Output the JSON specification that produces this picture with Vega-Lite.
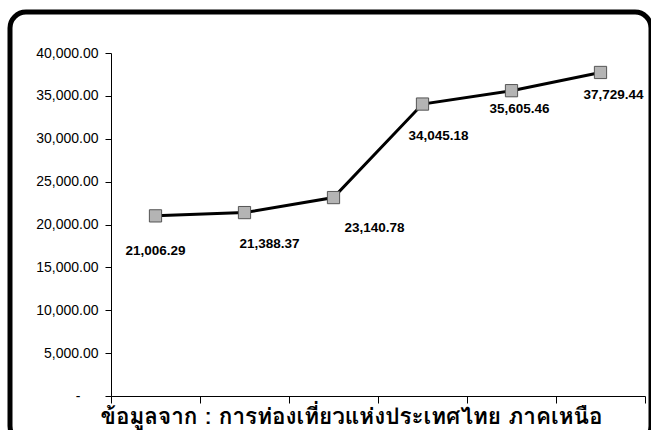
{
  "$schema": "https://vega.github.io/schema/vega-lite/v6.json",
  "autosize": "none",
  "padding": {"left": 10, "top": 12, "right": 0, "bottom": 0},
  "width": 641,
  "height": 430,
  "background": "white",
  "config": {
    "view": {"stroke": "black", "strokeWidth": 5, "cornerRadius": 16},
    "axis": {"grid": false, "domainColor": "black", "tickColor": "black", "labelColor": "black", "titleColor": "black"}
  },
  "data": {
    "values": [
      {"period": "1", "value": 21006.29},
      {"period": "2", "value": 21388.37},
      {"period": "3", "value": 23140.78},
      {"period": "4", "value": 34045.18},
      {"period": "5", "value": 35605.46},
      {"period": "6", "value": 37729.44}
    ]
  },
  "encoding": {
    "x": {
      "field": "period", "type": "ordinal", "sort": null,
      "scale": {"type": "band", "range": [101, 635], "paddingInner": 0, "paddingOuter": 0},
      "axis": {
        "offset": -46, "labels": false, "tickBand": "extent", "tickSize": 7,
        "title": "ข้อมูลจาก : การท่องเที่ยวแห่งประเทศไทย ภาคเหนือ",
        "titleFont": "Tahoma, Loma, Garuda, Noto Sans Thai, Noto Sans, sans-serif",
        "titleFontSize": 22.5, "titleFontWeight": "bold",
        "titleAnchor": "start", "titleAlign": "left", "titleBaseline": "alphabetic",
        "titleX": 90, "titleY": 27
      }
    },
    "y": {
      "field": "value", "type": "quantitative",
      "scale": {"domain": [0, 40000], "range": [384, 41], "nice": false, "zero": true},
      "axis": {
        "offset": -101, "title": null, "values": [0, 5000, 10000, 15000, 20000, 25000, 30000, 35000, 40000],
        "labelExpr": "datum.value == 0 ? '-' : format(datum.value, ',.2f')",
        "labelPadding": {"condition": {"test": "datum.value == 0", "value": 25}, "value": 7},
        "labelFont": "Liberation Sans", "labelFontSize": 14, "tickSize": 6
      }
    }
  },
  "layer": [
    {"mark": {"type": "line", "color": "black", "strokeWidth": 3}},
    {"mark": {"type": "point", "shape": "square", "size": 150, "filled": true, "fill": "#b4b4b4", "stroke": "#555555", "strokeWidth": 1, "opacity": 1}},
    {"transform": [{"filter": "datum.period == '1'"}],
     "mark": {"type": "text", "font": "Liberation Sans", "fontWeight": "bold", "fontSize": 13.5, "dx": 0, "dy": 35, "baseline": "middle"},
     "encoding": {"text": {"field": "value", "type": "quantitative", "format": ",.2f"}}},
    {"transform": [{"filter": "datum.period == '2'"}],
     "mark": {"type": "text", "font": "Liberation Sans", "fontWeight": "bold", "fontSize": 13.5, "dx": 25, "dy": 31, "baseline": "middle"},
     "encoding": {"text": {"field": "value", "type": "quantitative", "format": ",.2f"}}},
    {"transform": [{"filter": "datum.period == '3'"}],
     "mark": {"type": "text", "font": "Liberation Sans", "fontWeight": "bold", "fontSize": 13.5, "dx": 41, "dy": 30, "baseline": "middle"},
     "encoding": {"text": {"field": "value", "type": "quantitative", "format": ",.2f"}}},
    {"transform": [{"filter": "datum.period == '4'"}],
     "mark": {"type": "text", "font": "Liberation Sans", "fontWeight": "bold", "fontSize": 13.5, "dx": 16, "dy": 32, "baseline": "middle"},
     "encoding": {"text": {"field": "value", "type": "quantitative", "format": ",.2f"}}},
    {"transform": [{"filter": "datum.period == '5'"}],
     "mark": {"type": "text", "font": "Liberation Sans", "fontWeight": "bold", "fontSize": 13.5, "dx": 8, "dy": 18, "baseline": "middle"},
     "encoding": {"text": {"field": "value", "type": "quantitative", "format": ",.2f"}}},
    {"transform": [{"filter": "datum.period == '6'"}],
     "mark": {"type": "text", "font": "Liberation Sans", "fontWeight": "bold", "fontSize": 13.5, "dx": 13, "dy": 23, "baseline": "middle"},
     "encoding": {"text": {"field": "value", "type": "quantitative", "format": ",.2f"}}}
  ]
}
